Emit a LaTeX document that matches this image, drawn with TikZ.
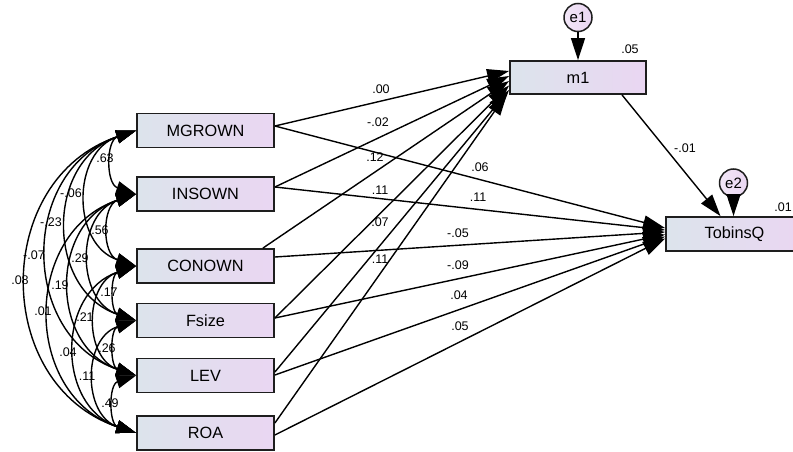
\documentclass[tikz,border=0pt]{standalone}
\usepackage{fontspec}
\setmainfont{Liberation Sans}
\usetikzlibrary{arrows.meta,calc}
\definecolor{boxL}{RGB}{220,228,236}
\definecolor{boxR}{RGB}{234,214,242}
\definecolor{edgeC}{RGB}{30,30,30}
\begin{document}
\begin{tikzpicture}[x=1pt,y=-1pt,
  var/.style={draw=edgeC, line width=1.8pt, left color=boxL, right color=boxR,
    minimum width=137pt, minimum height=34pt, inner sep=0pt,
    font=\fontsize{16.3}{19}\selectfont},
  err/.style={circle, draw=edgeC, line width=1.5pt, left color=boxR!60!white, right color=boxR,
    minimum size=28pt, inner sep=0pt, font=\fontsize{15}{17}\selectfont},
  reg/.style={line width=1.4pt, -{Triangle[length=22pt,width=14pt]}},
  cov/.style={line width=1.4pt, {Triangle[length=20pt,width=13pt]}-{Triangle[length=20pt,width=13pt]},
    bend right=71.5, looseness=1.29},
  est/.style={font=\fontsize{12.5}{14}\selectfont, inner sep=0pt}
]
\fill[white] (0,0) rectangle (793,452);
\useasboundingbox (0,0) rectangle (793,452);

% exogenous variables
\node[var] (mg)  at (205.5,130.5) {MGROWN};
\node[var] (ins) at (205.5,194)   {INSOWN};
\node[var] (con) at (205.5,266)   {CONOWN};
\node[var] (fs)  at (205.5,320.5) {Fsize};
\node[var] (lev) at (205.5,375.5) {LEV};
\node[var] (roa) at (205.5,433)   {ROA};

% mediator, outcome and error terms
\node[var, minimum width=136pt, minimum height=33pt] (m1) at (578,77.5) {m1};
\node[var] (tq) at (734.5,234) {TobinsQ};
\node[err] (e1) at (578,17.5) {e1};
\node[err] (e2) at (733.5,183) {e2};

% covariances among the exogenous variables
\draw[cov] (mg.west)  to (ins.west);
\draw[cov] (mg.west)  to (con.west);
\draw[cov] (mg.west)  to (fs.west);
\draw[cov] (mg.west)  to (lev.west);
\draw[cov] (mg.west)  to (roa.west);
\draw[cov] (ins.west) to (con.west);
\draw[cov] (ins.west) to (fs.west);
\draw[cov] (ins.west) to (lev.west);
\draw[cov] (ins.west) to (roa.west);
\draw[cov] (con.west) to (fs.west);
\draw[cov] (con.west) to (lev.west);
\draw[cov] (con.west) to (roa.west);
\draw[cov] (fs.west)  to (lev.west);
\draw[cov] (fs.west)  to (roa.west);
\draw[cov] (lev.west) to (roa.west);

\node[est] (c1)  at (105,158) {.63};
\node[est] (c2)  at (71,193)  {-.06};
\node[est] (c3)  at (51,222)  {-.23};
\node[est] (c4)  at (34,255)  {-.07};
\node[est] (c5)  at (20,280)  {.08};
\node[est] (c6)  at (100,230) {.56};
\node[est] (c7)  at (80,258)  {.29};
\node[est] (c8)  at (60,285)  {.19};
\node[est] (c9)  at (43,311)  {.01};
\node[est] (c10) at (109,292) {.17};
\node[est] (c11) at (85,317)  {.21};
\node[est] (c12) at (68,352)  {.04};
\node[est] (c13) at (107,348) {.26};
\node[est] (c14) at (87,376)  {.11};
\node[est] (c15) at (110,403) {.49};

% attachment points of the regression paths
\coordinate (mgS)  at ([yshift=4.5pt]mg.east);
\coordinate (insS) at ([yshift=7pt]ins.east);
\coordinate (conA) at ([xshift=-12pt]con.north east);
\coordinate (conB) at ([yshift=9pt]con.east);
\coordinate (fsS)  at ([yshift=2.5pt]fs.east);
\coordinate (levA) at ([yshift=3.5pt]lev.east);
\coordinate (levB) at ([yshift=0.5pt]lev.east);
\coordinate (roaA) at ([yshift=10pt]roa.east);
\coordinate (roaB) at ([yshift=-2pt]roa.east);

\coordinate (m1a) at ([yshift=6.5pt]m1.west);
\coordinate (m1b) at ([yshift=1.5pt]m1.west);
\coordinate (m1c) at ([yshift=-3.5pt]m1.west);
\coordinate (m1d) at ([yshift=-8pt]m1.west);
\coordinate (m1e) at ([yshift=-12.5pt]m1.west);
\coordinate (m1f) at ([xshift=-2pt,yshift=-16pt]m1.west);

\coordinate (tqa) at ([yshift=6pt]tq.west);
\coordinate (tqb) at ([yshift=4pt]tq.west);
\coordinate (tqc) at ([yshift=2pt]tq.west);
\coordinate (tqd) at ([yshift=-0.5pt]tq.west);
\coordinate (tqe) at ([yshift=-2.5pt]tq.west);
\coordinate (tqf) at ([yshift=-4.5pt]tq.west);

% paths to m1
\draw[reg] (mgS)  -- (m1a);
\draw[reg] (insS) -- (m1b);
\draw[reg] (conA) -- (m1c);
\draw[reg] (fsS)  -- (m1d);
\draw[reg] (levA) -- (m1e);
\draw[reg] (roaA) -- (m1f);

% paths to TobinsQ
\draw[reg] (mgS)  -- (tqa);
\draw[reg] (insS) -- (tqb);
\draw[reg] (conB) -- (tqc);
\draw[reg] (fsS)  -- (tqd);
\draw[reg] (levB) -- (tqe);
\draw[reg] (roaB) -- (tqf);

% mediator and error paths
\draw[reg] ([xshift=44pt]m1.south) -- ([xshift=-14pt]tq.north);
\draw[reg] (e1) -- (m1);
\draw[reg] (e2.south) -- (e2.south |- tq.north);

% path estimates
\node[est] (p1)  at (381,89)  {.00};
\node[est] (p2)  at (378,122) {-.02};
\node[est] (p3)  at (375,157) {.12};
\node[est] (p4)  at (380,190) {.11};
\node[est] (p5)  at (380,222) {.07};
\node[est] (p6)  at (380,259) {.11};
\node[est] (q1)  at (480,167) {.06};
\node[est] (q2)  at (478,197) {.11};
\node[est] (q3)  at (458,233) {-.05};
\node[est] (q4)  at (458,265) {-.09};
\node[est] (q5)  at (459,295) {.04};
\node[est] (q6)  at (460,326) {.05};
\node[est] (q7)  at (685,148) {-.01};

% squared multiple correlations
\node[est] (r1) at (630,49) {.05};
\node[est, anchor=east] (r2) at (792,207) {.01};
\end{tikzpicture}
\end{document}
